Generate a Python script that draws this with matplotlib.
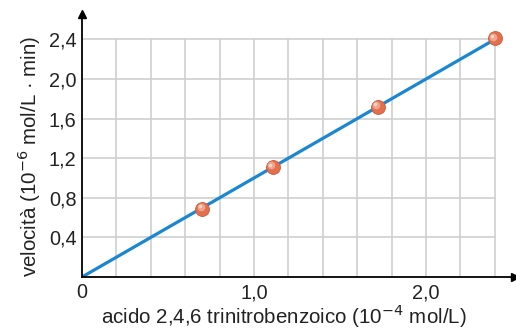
import numpy as np
import matplotlib.pyplot as plt
from matplotlib import transforms

plt.rcParams['font.family'] = ['Liberation Sans', 'DejaVu Sans']

# misure: concentrazione acido (1e-4 mol/L) e velocita (1e-6 mol/L min)
conc = [0.70, 1.11, 1.72, 2.40]
vel = [0.69, 1.11, 1.72, 2.41]

# retta di regressione passante per l'origine
fit_x = [0.0, 2.40]
fit_y = [0.0, 2.40]

x_ticks = [0.0, 1.0, 2.0]
x_tick_labels = ["0", "1,0", "2,0"]
y_ticks = [0.4, 0.8, 1.2, 1.6, 2.0, 2.4]
y_tick_labels = ["0,4", "0,8", "1,2", "1,6", "2,0", "2,4"]

W, H = 516, 329
fig = plt.figure(figsize=(W/100, H/100), dpi=100)
ax = fig.add_axes([82/W, 52/H, 433/W, 263/H])
ax.set_xlim(0, 433/172)
ax.set_ylim(0, 263/99)

# griglia solo fino a 2,4
grid_c = '#cfcfcf'
for gx in np.arange(0.2, 2.41, 0.2):
    ax.plot([gx, gx], [0, 2.4], color=grid_c, lw=1.2, zorder=1)
for gy in y_ticks:
    ax.plot([0, 2.4], [gy, gy], color=grid_c, lw=1.2, zorder=1)

ax.plot(fit_x, fit_y, color='#1a87d0', lw=2.3, solid_capstyle='butt', zorder=3)

# punti sferici: base + riflesso
ax.plot(conc, vel, 'o', ms=10, mfc='#e2704f', mec='#cc5a3e', mew=0.6, zorder=4)
shift = transforms.ScaledTranslation(-1.2/72, 1.2/72, fig.dpi_scale_trans)
ax.plot(conc, vel, 'o', ms=5.5, mfc='#f2ab92', mec='none', alpha=0.9,
        transform=ax.transData + shift, zorder=5)
shift2 = transforms.ScaledTranslation(-1.8/72, 1.8/72, fig.dpi_scale_trans)
ax.plot(conc, vel, 'o', ms=2.5, mfc='#fcdccf', mec='none', alpha=0.9,
        transform=ax.transData + shift2, zorder=6)

for s in ['top', 'right']:
    ax.spines[s].set_visible(False)
for s in ['left', 'bottom']:
    ax.spines[s].set_linewidth(1.3)
    ax.spines[s].set_zorder(7)

# frecce sugli assi
ax.plot(1, 0, '>', color='black', ms=6, transform=ax.transAxes, clip_on=False, zorder=8)
ax.plot(0, 1, '^', color='black', ms=6, transform=ax.transAxes, clip_on=False, zorder=8)

ax.set_xticks(x_ticks)
ax.set_xticklabels(x_tick_labels)
ax.set_yticks(y_ticks)
ax.set_yticklabels(y_tick_labels)
ax.tick_params(axis='both', length=0, labelsize=14.3, colors='#222222')
ax.tick_params(axis='x', pad=4.5)
ax.tick_params(axis='y', pad=4)

# titoli degli assi posizionati sulla linea di base
fig.text(284/W, 4.5/H, "acido 2,4,6 trinitrobenzoico (10$^{-4}$ mol/L)",
         fontsize=14.8, color='#222222', ha='center', va='baseline')
fig.text(37/W, (H - 156.5)/H, "velocità (10$^{-6}$ mol/L · min)",
         fontsize=14.8, color='#222222', rotation=90, rotation_mode='anchor',
         ha='center', va='baseline')

fig.savefig("out.png", dpi=100)
